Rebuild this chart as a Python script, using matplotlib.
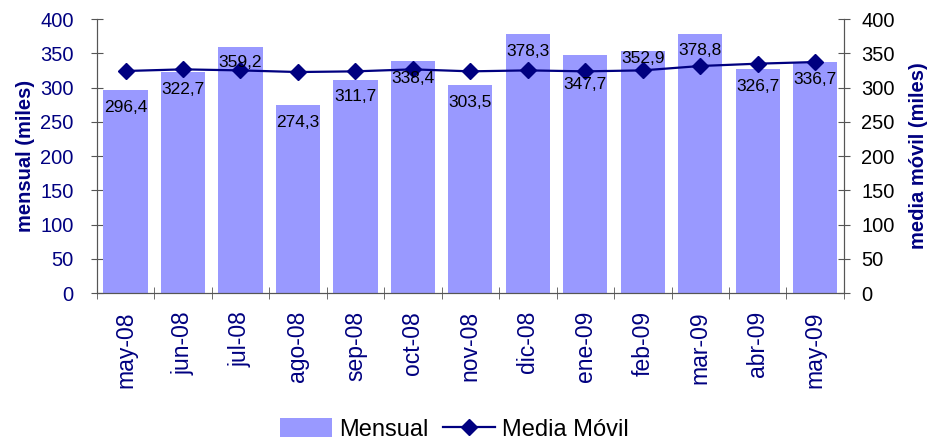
import matplotlib
matplotlib.use("Agg")
import matplotlib.pyplot as plt
import numpy as np

plt.rcParams['font.family'] = ['Liberation Sans', 'DejaVu Sans']

meses = ["may-08", "jun-08", "jul-08", "ago-08", "sep-08", "oct-08", "nov-08",
         "dic-08", "ene-09", "feb-09", "mar-09", "abr-09", "may-09"]
mensual = [296.4, 322.7, 359.2, 274.3, 311.7, 338.4, 303.5,
           378.3, 347.7, 352.9, 378.8, 326.7, 336.7]
media_movil = [324.1, 326.5, 325.0, 322.6, 323.6, 326.5, 323.6,
               325.0, 323.6, 325.0, 331.4, 334.8, 337.2]
etiquetas = ["296,4", "322,7", "359,2", "274,3", "311,7", "338,4", "303,5",
             "378,3", "347,7", "352,9", "378,8", "326,7", "336,7"]

navy = "#000080"
gris = "#555555"
x = np.arange(len(meses))

# nudges (points) for labels that Excel moved off the line
ajuste = {2: 1.5, 8: -9, 9: 7}

fig = plt.figure(figsize=(9.27, 4.42), dpi=100)
ax = fig.add_axes([0.1044, 0.337, 0.8060, 0.620])
ax2 = ax.twinx()

barras = ax.bar(x, mensual, width=0.77, color="#9999FF", label="Mensual", zorder=2)
linea, = ax2.plot(x, media_movil, color=navy, marker="D", markersize=8.5, lw=1.6,
                  label="Media Móvil", zorder=3)

for i, (xi, v, t) in enumerate(zip(x, mensual, etiquetas)):
    ax2.annotate(t, (xi, v), xytext=(0, -7 + ajuste.get(i, 0)), textcoords="offset points",
                 ha="center", va="top", fontsize=12.5, color="black", zorder=4)

for a in (ax, ax2):
    a.set_ylim(0, 400)
    a.set_yticks(range(0, 401, 50))
    a.spines["top"].set_visible(False)
    for s in ("left", "right", "bottom"):
        a.spines[s].set_color(gris)
ax.set_xlim(-0.5, len(meses) - 0.5)
ax.set_zorder(1)
ax2.set_zorder(2)
ax.patch.set_visible(False)
ax2.patch.set_visible(False)

ax.tick_params(axis="y", direction="inout", length=9, labelsize=14.5, labelcolor=navy,
               color=gris, pad=12)
ax2.tick_params(axis="y", direction="inout", length=9, labelsize=14.5, labelcolor="black",
                color=gris, pad=8)
ax.set_xticks(x)
ax.set_xticklabels(meses, rotation=90, fontsize=16.5, color=navy)
ax.tick_params(axis="x", which="major", length=0, pad=13)
ax.set_xticks(np.arange(-0.5, len(meses), 1), minor=True)
ax.tick_params(axis="x", which="minor", direction="inout", length=9, color=gris)

ax.set_ylabel("mensual (miles)", fontsize=14.5, fontweight="bold", color=navy, labelpad=4)
ax2.set_ylabel("media móvil (miles)", fontsize=14.5, fontweight="bold", color=navy, labelpad=10)

fig.legend([barras, linea], ["Mensual", "Media Móvil"], loc="lower center",
           bbox_to_anchor=(0.49, -0.045), ncol=2, frameon=False, fontsize=17,
           handlelength=2.2, handleheight=0.9, columnspacing=0.6, handletextpad=0.3)

fig.savefig("out.png", dpi=100)
